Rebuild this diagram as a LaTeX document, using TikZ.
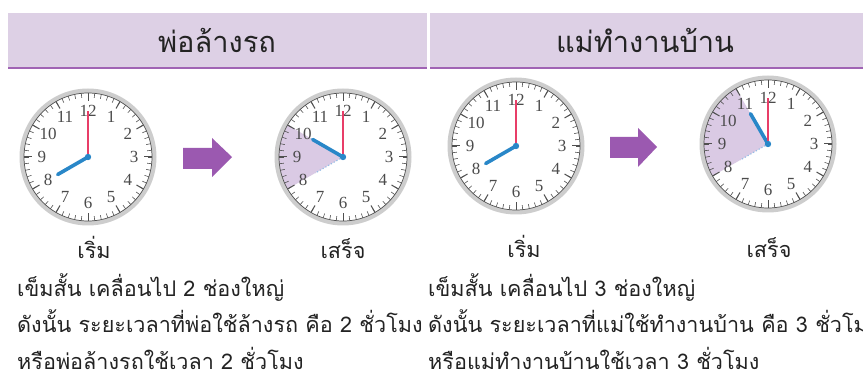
\documentclass[tikz,border=0pt]{standalone}
\usepackage{fontspec}
\setmainfont{Liberation Serif}
\newfontfamily\thaifont[Script=Thai]{Loma}
\definecolor{bandc}{RGB}{221,208,229}
\definecolor{bandline}{RGB}{160,100,180}
\definecolor{arrowc}{RGB}{155,89,176}
\definecolor{wedgec}{RGB}{218,202,228}
\definecolor{hourc}{RGB}{41,135,200}
\definecolor{minc}{RGB}{232,62,104}
\definecolor{ringc}{RGB}{205,205,205}
\definecolor{tickc}{RGB}{80,80,80}
\definecolor{numc}{RGB}{75,75,75}
\definecolor{dotc}{RGB}{150,190,230}
\definecolor{txtc}{RGB}{35,35,35}
\newcommand{\myclock}[5]{%
  \begin{scope}[shift={(#2,#3)}]
    \coordinate (#1) at (0,0);
    \fill[ringc] (#1) circle[radius=68.5];
    \fill[white] (#1) circle[radius=64];
    \ifx\relax#5\relax\else
      \fill[wedgec] (#1) -- (#5:64) arc[start angle=#5, end angle=150, radius=64] -- cycle;
      \draw[dotc, dotted, line width=1.2pt] (#1) -- (150:32);
    \fi
    \draw[tickc, line width=0.7pt] (#1) circle[radius=64];
    \foreach \m in {0,...,59} \draw[ticks] (6*\m:64) -- (6*\m:59.5);
    \foreach \h in {0,...,11} \draw[hticks] (30*\h:64) -- (30*\h:56);
    \foreach \h in {1,...,12} \node[num] (#1n\h) at ({-90+30*\h}:46) {\h};
    \draw[hourhand] (#1) -- (#4:35);
    \draw[minhand] (#1) -- (-90:46);
    \fill[hourc] (#1) circle[radius=3.2];
  \end{scope}}
\begin{document}
\begin{tikzpicture}[x=1pt,y=-1pt,
  ticks/.style={tickc, line width=0.6pt},
  hticks/.style={tickc, line width=1pt},
  num/.style={text=numc, font=\fontsize{17}{17}\selectfont, inner sep=0pt},
  hourhand/.style={hourc, line width=3.6pt, line cap=round},
  minhand/.style={minc, line width=2.2pt},
  head/.style={font=\thaifont\fontsize{29}{29}\selectfont, text=txtc, inner sep=0pt},
  lbl/.style={font=\thaifont\fontsize{21.6}{21.6}\selectfont, text=txtc, inner sep=0pt},
  bigarrow/.style={fill=arrowc}]
\useasboundingbox (0,0) rectangle (863,382);
\clip (0,0) rectangle (863,382);
% header bands
\fill[bandc] (8,13) rectangle (427,67);
\draw[bandline, line width=2pt] (8,68) -- (427,68);
\fill[bandc] (430,13) rectangle (863,67);
\draw[bandline, line width=2pt] (430,68) -- (863,68);
\node[head, anchor=base] (h1) at (217,53) {พ่อล้างรถ};
\node[head, anchor=base] (h2) at (645,53) {แม่ทำงานบ้าน};
% clocks
\myclock{ca}{88}{157}{150}{}
\myclock{cb}{343}{157}{210}{210}
\myclock{cc}{516}{146}{150}{}
\myclock{cd}{768}{144}{240}{240}
% arrows
\fill[bigarrow] (183,148) -- (212,148) -- (212,138) -- (232,157) -- (212,177) -- (212,169) -- (183,169) -- cycle;
\fill[bigarrow] (610,137) -- (638,137) -- (638,128) -- (657,147) -- (638,167) -- (638,158) -- (610,158) -- cycle;
% labels
\node[lbl, anchor=base] (s1) at (94,259) {เริ่ม};
\node[lbl, anchor=base] (f1) at (343,259) {เสร็จ};
\node[lbl, anchor=base] (s2) at (524,258) {เริ่ม};
\node[lbl, anchor=base] (f2) at (769,258) {เสร็จ};
\node[lbl, anchor=base west] (l1) at (17,297) {เข็มสั้น เคลื่อนไป 2 ช่องใหญ่};
\node[lbl, anchor=base west] (l2) at (17,333) {ดังนั้น ระยะเวลาที่พ่อใช้ล้างรถ คือ 2 ชั่วโมง};
\node[lbl, anchor=base west] (l3) at (17,370) {หรือพ่อล้างรถใช้เวลา 2 ชั่วโมง};
\node[lbl, anchor=base west] (r1) at (428,297) {เข็มสั้น เคลื่อนไป 3 ช่องใหญ่};
\node[lbl, anchor=base west] (r2) at (428,333) {ดังนั้น ระยะเวลาที่แม่ใช้ทำงานบ้าน คือ 3 ชั่วโมง};
\node[lbl, anchor=base west] (r3) at (428,370) {หรือแม่ทำงานบ้านใช้เวลา 3 ชั่วโมง};
\end{tikzpicture}
\end{document}
